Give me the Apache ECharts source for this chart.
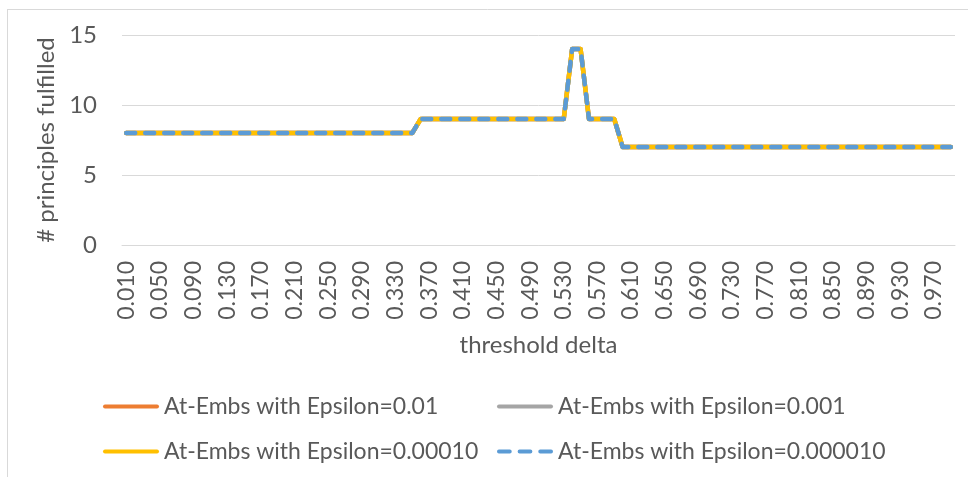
<!DOCTYPE html>
<html>
<head>
<meta charset="utf-8">
<script src="https://cdn.jsdelivr.net/npm/echarts@6/dist/echarts.min.js"></script>
<style>
html,body{margin:0;padding:0;background:#fff;}
#chart{width:968px;height:477px;}
</style>
</head>
<body>
<div id="chart"></div>
<script>
// threshold delta categories 0.010 .. 0.990
const categories = ["0.010","0.020","0.030","0.040","0.050","0.060","0.070","0.080","0.090","0.100",
"0.110","0.120","0.130","0.140","0.150","0.160","0.170","0.180","0.190","0.200",
"0.210","0.220","0.230","0.240","0.250","0.260","0.270","0.280","0.290","0.300",
"0.310","0.320","0.330","0.340","0.350","0.360","0.370","0.380","0.390","0.400",
"0.410","0.420","0.430","0.440","0.450","0.460","0.470","0.480","0.490","0.500",
"0.510","0.520","0.530","0.540","0.550","0.560","0.570","0.580","0.590","0.600",
"0.610","0.620","0.630","0.640","0.650","0.660","0.670","0.680","0.690","0.700",
"0.710","0.720","0.730","0.740","0.750","0.760","0.770","0.780","0.790","0.800",
"0.810","0.820","0.830","0.840","0.850","0.860","0.870","0.880","0.890","0.900",
"0.910","0.920","0.930","0.940","0.950","0.960","0.970","0.980","0.990"];

const eps001 = [8,8,8,8,8,8,8,8,8,8, 8,8,8,8,8,8,8,8,8,8, 8,8,8,8,8,8,8,8,8,8, 8,8,8,8,8,9,9,9,9,9,
9,9,9,9,9,9,9,9,9,9, 9,9,9,14,14,9,9,9,9,7, 7,7,7,7,7,7,7,7,7,7, 7,7,7,7,7,7,7,7,7,7,
7,7,7,7,7,7,7,7,7,7, 7,7,7,7,7,7,7,7,7];
const eps0001 = [8,8,8,8,8,8,8,8,8,8, 8,8,8,8,8,8,8,8,8,8, 8,8,8,8,8,8,8,8,8,8, 8,8,8,8,8,9,9,9,9,9,
9,9,9,9,9,9,9,9,9,9, 9,9,9,14,14,9,9,9,9,7, 7,7,7,7,7,7,7,7,7,7, 7,7,7,7,7,7,7,7,7,7,
7,7,7,7,7,7,7,7,7,7, 7,7,7,7,7,7,7,7,7];
const eps00010 = [8,8,8,8,8,8,8,8,8,8, 8,8,8,8,8,8,8,8,8,8, 8,8,8,8,8,8,8,8,8,8, 8,8,8,8,8,9,9,9,9,9,
9,9,9,9,9,9,9,9,9,9, 9,9,9,14,14,9,9,9,9,7, 7,7,7,7,7,7,7,7,7,7, 7,7,7,7,7,7,7,7,7,7,
7,7,7,7,7,7,7,7,7,7, 7,7,7,7,7,7,7,7,7];
const eps000010 = [8,8,8,8,8,8,8,8,8,8, 8,8,8,8,8,8,8,8,8,8, 8,8,8,8,8,8,8,8,8,8, 8,8,8,8,8,9,9,9,9,9,
9,9,9,9,9,9,9,9,9,9, 9,9,9,14,14,9,9,9,9,7, 7,7,7,7,7,7,7,7,7,7, 7,7,7,7,7,7,7,7,7,7,
7,7,7,7,7,7,7,7,7,7, 7,7,7,7,7,7,7,7,7];

const seriesNames = ["At-Embs with Epsilon=0.01","At-Embs with Epsilon=0.001","At-Embs with Epsilon=0.00010","At-Embs with Epsilon=0.000010"];
const yTicks = {min:0, max:15, interval:5};

const FONT = "Lato, 'Open Sans', sans-serif";
const TXT = "#595959";
const SOLID_ICON = 'path://M2,0H54A2,2,0,0,1,54,4H2A2,2,0,0,1,2,0Z';
const DASH_ICON = 'path://M2,0H13A2,2,0,0,1,13,4H2A2,2,0,0,1,2,0Z M23,0H34A2,2,0,0,1,34,4H23A2,2,0,0,1,23,0Z M44,0H55A2,2,0,0,1,55,4H44A2,2,0,0,1,44,0Z';

const chart = echarts.init(document.getElementById('chart'), null, {renderer:'canvas'});

function legendAt(name, left, top, icon){
  return {
    data:[{name:name, icon:icon}], left:left, top:top, orient:'horizontal',
    itemWidth:56, itemHeight:4, itemGap:6, padding:0,
    textStyle:{color:TXT, fontFamily:FONT, fontSize:23},
    selectedMode:false
  };
}

const option = {
  backgroundColor:'#fff',
  animation:false,
  grid:{left:122, right:13, top:35, bottom:232, containLabel:false},
  legend:[
    legendAt(seriesNames[0], 103, 395, SOLID_ICON),
    legendAt(seriesNames[1], 497, 395, SOLID_ICON),
    legendAt(seriesNames[2], 103, 440, SOLID_ICON),
    legendAt(seriesNames[3], 497, 440, DASH_ICON)
  ],
  xAxis:{
    type:'category', data:categories, boundaryGap:true,
    name:'threshold delta', nameLocation:'middle', nameGap:88,
    nameTextStyle:{color:TXT, fontFamily:FONT, fontSize:24},
    axisLine:{show:true, lineStyle:{color:'#D9D9D9', width:1}},
    axisTick:{show:false},
    axisLabel:{rotate:90, interval:3, color:TXT, fontFamily:FONT, fontSize:23, margin:16},
    splitLine:{show:false}
  },
  yAxis:{
    type:'value', min:yTicks.min, max:yTicks.max, interval:yTicks.interval,
    name:'# principles fulfilled', nameLocation:'middle', nameGap:60, nameRotate:90,
    nameTextStyle:{color:TXT, fontFamily:FONT, fontSize:24},
    axisLine:{show:false}, axisTick:{show:false},
    axisLabel:{color:TXT, fontFamily:FONT, fontSize:24, margin:25},
    splitLine:{lineStyle:{color:'#D9D9D9', width:1}}
  },
  series:[
    {name:seriesNames[0], type:'line', data:eps001, symbol:'none', color:'#ED7D31',
     lineStyle:{width:4.5, color:'#ED7D31', cap:'round', join:'round'}},
    {name:seriesNames[1], type:'line', data:eps0001, symbol:'none', color:'#A5A5A5',
     lineStyle:{width:4.5, color:'#A5A5A5', cap:'round', join:'round'}},
    {name:seriesNames[2], type:'line', data:eps00010, symbol:'none', color:'#FFC000',
     lineStyle:{width:4.5, color:'#FFC000', cap:'round', join:'round'}},
    {name:seriesNames[3], type:'line', data:eps000010, symbol:'none', color:'#5B9BD5',
     lineStyle:{width:4.5, color:'#5B9BD5', type:[9,10], cap:'round', join:'round'}}
  ],
  graphic:[
    {type:'line', shape:{x1:7.5, y1:9, x2:7.5, y2:477}, style:{stroke:'#D9D9D9', lineWidth:1}, silent:true},
    {type:'line', shape:{x1:7, y1:9.5, x2:968, y2:9.5}, style:{stroke:'#D9D9D9', lineWidth:1}, silent:true}
  ]
};
chart.setOption(option);
</script>
</body>
</html>
